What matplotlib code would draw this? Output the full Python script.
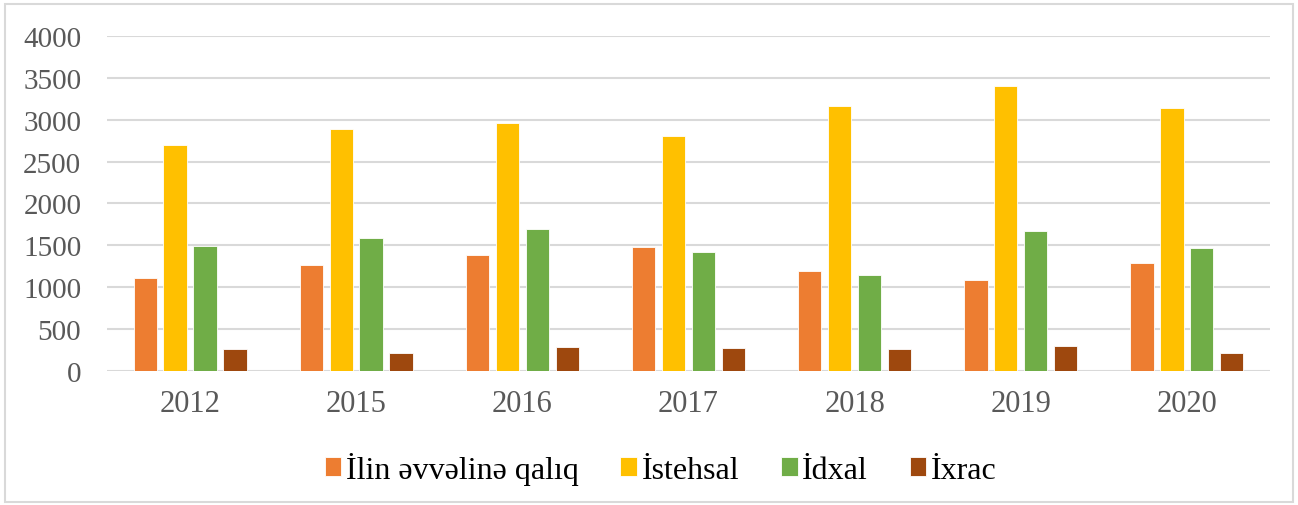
import numpy as np
import matplotlib.pyplot as plt
from matplotlib.patches import Rectangle

years = ['2012', '2015', '2016', '2017', '2018', '2019', '2020']
qaliq = [1115, 1262, 1381, 1485, 1190, 1087, 1290]
istehsal = [2700, 2894, 2957, 2810, 3169, 3403, 3140]
idxal = [1492, 1588, 1692, 1425, 1143, 1668, 1469]
ixrac = [260, 220, 291, 271, 259, 295, 220]

series = [
    ('İlin əvvəlinə qalıq', qaliq, '#ed7d31'),
    ('İstehsal', istehsal, '#ffc000'),
    ('İdxal', idxal, '#70ad47'),
    ('İxrac', ixrac, '#9e480e'),
]

plt.rcParams['font.family'] = ['Liberation Serif', 'DejaVu Serif']

fig = plt.figure(figsize=(12.98, 5.06), dpi=100)
ax = fig.add_axes([0.0824, 0.2648, 0.8960, 0.6621])

x = np.arange(len(years))
step = 0.18
for i, (name, vals, col) in enumerate(series):
    ax.bar(x + (i - 1.5) * step, vals, width=0.14, color=col, label=name,
           edgecolor='white', linewidth=0.6, zorder=3)

ax.set_xlim(-0.5, len(years) - 0.5)
ax.set_ylim(0, 4000)
ax.set_yticks(range(0, 4001, 500))
ax.set_xticks(x)
ax.set_xticklabels(years)
ax.yaxis.grid(True, color='#d9d9d9', linewidth=1.5, zorder=0)
for s in ax.spines.values():
    s.set_visible(False)
ax.tick_params(axis='both', length=0, labelcolor='#595959')
ax.tick_params(axis='x', pad=13, labelsize=22)
ax.tick_params(axis='y', pad=18.5, labelsize=21)

fig.legend(loc='center', bbox_to_anchor=(0.509, 0.073), ncol=4, frameon=False,
           fontsize=23, handlelength=0.52, handleheight=0.52, handletextpad=0.15,
           columnspacing=1.3)

fig.patches.append(Rectangle((0.004, 0.006), 0.992, 0.984, transform=fig.transFigure,
                             fill=False, edgecolor='#d9d9d9', linewidth=1.5))

fig.savefig('out.png', dpi=100)
